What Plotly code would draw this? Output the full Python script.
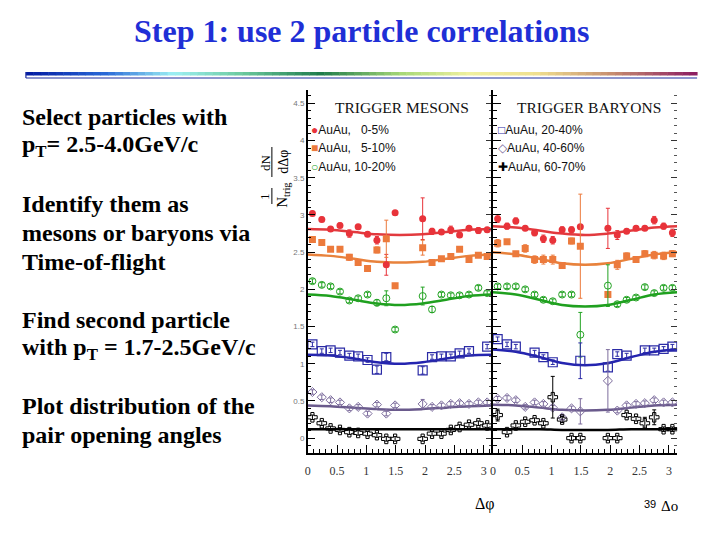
import plotly.graph_objects as go

# ---------------- data ----------------
x_bins = [0.08, 0.24, 0.39, 0.55, 0.71, 0.86, 1.02, 1.18, 1.34, 1.49,
          1.96, 2.12, 2.28, 2.44, 2.59, 2.75, 2.91, 3.06]
x_curve = [0.0, 0.39, 0.79, 1.18, 1.57, 1.96, 2.36, 2.75, 3.14]

series_names = ["AuAu,   0-5%", "AuAu,   5-10%", "AuAu, 10-20%",
                "AuAu, 20-40%", "AuAu, 40-60%", "AuAu, 60-70%"]

# trigger mesons (left panel)
mes_red = [3.02, 2.94, 2.81, 2.86, 2.75, 2.84, 2.74, 2.66, 2.33, 3.03, 2.95, 2.78, 2.77, 2.80, 2.73, 2.82, 2.79, 2.80]
mes_orange = [2.67, 2.63, 2.54, 2.54, 2.43, 2.36, 2.28, 2.53, 2.68, 2.05, 2.56, 2.36, 2.41, 2.44, 2.54, 2.40, 2.46, 2.44]
mes_green = [2.11, 2.06, 2.04, 1.97, 1.85, 1.88, 1.93, 1.82, 1.88, 1.46, 1.91, 1.73, 1.93, 1.92, 1.92, 1.93, 2.02, 1.95]
mes_blue = [1.26, 1.17, 1.18, 1.15, 1.11, 1.10, 1.05, 0.92, 1.09, None, 0.91, 1.09, 1.10, 1.10, 1.14, 1.17, None, 1.23]
mes_purple = [0.62, 0.55, 0.51, 0.48, 0.40, 0.42, 0.33, 0.45, 0.33, 0.44, 0.46, 0.42, 0.44, 0.46, 0.47, 0.46, 0.48, 0.48]
mes_black = [0.28, 0.20, 0.13, 0.11, 0.08, 0.07, 0.06, 0.04, -0.01, -0.01, -0.01, 0.06, 0.06, 0.11, 0.15, 0.18, 0.20, 0.17]

mes_red_err = [0.03, 0.03, 0.03, 0.03, 0.05, 0.03, 0.03, 0.05, 0.14, 0.03, 0.28, 0.04, 0.03, 0.05, 0.03, 0.03, 0.04, 0.03]
mes_orange_err = [0.03, 0.03, 0.03, 0.03, 0.04, 0.03, 0.04, 0.04, 0.25, 0.03, 0.10, 0.03, 0.03, 0.03, 0.03, 0.03, 0.03, 0.03]
mes_green_err = [0.03, 0.03, 0.03, 0.03, 0.03, 0.03, 0.03, 0.04, 0.10, 0.03, 0.12, 0.04, 0.03, 0.03, 0.03, 0.03, 0.03, 0.03]
mes_blue_err = [0.03, 0.03, 0.03, 0.03, 0.03, 0.03, 0.03, 0.05, 0.05, 0.03, 0.05, 0.03, 0.03, 0.03, 0.03, 0.03, 0.03, 0.03]
mes_purple_err = [0.03, 0.03, 0.03, 0.03, 0.03, 0.03, 0.03, 0.03, 0.03, 0.03, 0.06, 0.03, 0.03, 0.03, 0.03, 0.03, 0.03, 0.03]
mes_black_err = [0.03, 0.03, 0.03, 0.03, 0.03, 0.03, 0.03, 0.03, 0.03, 0.03, 0.03, 0.03, 0.03, 0.03, 0.03, 0.03, 0.03, 0.03]

mes_curve_red = [2.81, 2.80, 2.77, 2.74, 2.73, 2.74, 2.77, 2.80, 2.81]
mes_curve_orange = [2.47, 2.45, 2.41, 2.37, 2.36, 2.37, 2.41, 2.45, 2.47]
mes_curve_green = [1.93, 1.91, 1.86, 1.81, 1.79, 1.81, 1.86, 1.91, 1.93]
mes_curve_blue = [1.12, 1.11, 1.07, 1.02, 1.00, 1.02, 1.07, 1.11, 1.12]
mes_curve_purple = [0.44, 0.43, 0.41, 0.39, 0.38, 0.39, 0.41, 0.43, 0.44]
mes_curve_black = [0.12, 0.12, 0.12, 0.12, 0.12, 0.12, 0.12, 0.12, 0.12]

# trigger baryons (right panel)
bar_red = [2.95, 2.85, 2.92, 2.82, 2.76, 2.68, 2.66, 2.80, 2.80, 2.84, 2.82, 2.73, 2.78, 2.82, 2.82, 2.93, 2.85, 2.76]
bar_orange = [2.62, 2.64, 2.48, 2.55, 2.40, 2.40, 2.40, 2.32, 2.65, 2.58, 1.93, 2.33, 2.45, 2.40, 2.48, 2.46, 2.45, 2.48]
bar_green = [2.04, 2.04, 2.04, 2.00, 1.93, 1.86, 1.84, 1.93, 1.93, 1.39, 2.05, 1.80, 1.86, 1.89, 2.03, 1.95, 2.02, 2.02]
bar_blue = [1.33, 1.26, 1.23, None, 1.15, 1.09, 1.02, None, None, 1.04, 0.95, 1.13, 1.11, None, 1.18, 1.18, 1.20, 1.23]
bar_purple = [0.53, 0.54, 0.51, 0.42, 0.48, 0.46, 0.41, 0.28, 0.40, 0.36, 0.77, 0.37, 0.44, 0.46, 0.47, 0.51, 0.48, 0.48]
bar_black = [0.31, 0.08, 0.17, 0.22, 0.24, 0.20, 0.55, 0.25, 0.00, 0.00, 0.00, 0.00, 0.31, 0.26, 0.20, 0.28, 0.12, 0.12]

bar_red_err = [0.05, 0.04, 0.04, 0.03, 0.04, 0.05, 0.05, 0.04, 0.04, 0.03, 0.27, 0.06, 0.03, 0.03, 0.03, 0.05, 0.04, 0.05]
bar_orange_err = [0.05, 0.03, 0.03, 0.05, 0.05, 0.06, 0.06, 0.04, 0.04, 0.70, 0.03, 0.06, 0.04, 0.03, 0.04, 0.05, 0.05, 0.04]
bar_green_err = [0.03, 0.03, 0.03, 0.03, 0.03, 0.03, 0.03, 0.03, 0.03, 0.30, 0.28, 0.03, 0.03, 0.03, 0.03, 0.03, 0.03, 0.03]
bar_blue_err = [0.03, 0.03, 0.03, 0.03, 0.03, 0.03, 0.03, 0.03, 0.03, 0.24, 0.05, 0.03, 0.03, 0.03, 0.03, 0.03, 0.03, 0.03]
bar_purple_err = [0.03, 0.03, 0.03, 0.03, 0.03, 0.03, 0.03, 0.03, 0.03, 0.17, 0.42, 0.03, 0.03, 0.03, 0.03, 0.03, 0.03, 0.03]
bar_black_err = [0.08, 0.03, 0.03, 0.03, 0.03, 0.03, 0.28, 0.04, 0.03, 0.03, 0.03, 0.03, 0.03, 0.03, 0.08, 0.10, 0.03, 0.03]

bar_curve_red = [2.85, 2.83, 2.79, 2.75, 2.73, 2.75, 2.79, 2.83, 2.85]
bar_curve_orange = [2.50, 2.47, 2.41, 2.35, 2.33, 2.35, 2.41, 2.47, 2.50]
bar_curve_green = [1.96, 1.93, 1.86, 1.79, 1.77, 1.79, 1.86, 1.93, 1.96]
bar_curve_blue = [1.19, 1.16, 1.09, 1.01, 0.98, 1.01, 1.09, 1.16, 1.19]
bar_curve_purple = [0.45, 0.44, 0.41, 0.38, 0.37, 0.38, 0.41, 0.44, 0.45]
bar_curve_black = [0.12, 0.12, 0.12, 0.11, 0.11, 0.11, 0.12, 0.12, 0.12]

x_tickvals = [0, 0.5, 1, 1.5, 2, 2.5, 3]
x_ticktext = ["0", "0.5", "1", "1.5", "2", "2.5", "3"]
y_tickvals = [0, 0.5, 1, 1.5, 2, 2.5, 3, 3.5, 4, 4.5]
y_ticktext = ["0", "0.5", "1", "1.5", "2", "2.5", "3", "3.5", "4", "4.5"]

bullet_lines = [
    ("<b>Select particles with</b>", 117),
    ("<b>p<sub>T</sub>= 2.5-4.0GeV/c</b>", 146),
    ("<b>Identify them as</b>", 204),
    ("<b>mesons or baryons via</b>", 233),
    ("<b>Time-of-flight</b>", 262),
    ("<b>Find second particle</b>", 320),
    ("<b>with p<sub>T</sub> = 1.7-2.5GeV/c</b>", 349),
    ("<b>Plot distribution of the</b>", 406),
    ("<b>pair opening angles</b>", 435),
]

# ---------------- styles ----------------
W, H = 720, 540
def PX(px): return px / W
def PY(py): return 1 - py / H

marker_styles = [
    dict(symbol="circle", size=7, color="#e8333a"),
    dict(symbol="square", size=7, color="#ec7a3c"),
    dict(symbol="circle-open", size=7, color="#23a323", line=dict(width=1)),
    dict(symbol="square-open", size=9, color="#2b2ba6", line=dict(width=1.2)),
    dict(symbol="diamond-open", size=7, color="#7d6d9d", line=dict(width=1)),
    dict(symbol="cross-open", size=8, color="#000000", line=dict(width=1)),
]
curve_colors = ["#e23a3e", "#e8823c", "#1fa01f", "#2424b0", "#6a5a8c", "#000000"]

panels = [
    ("x", "y", [mes_red, mes_orange, mes_green, mes_blue, mes_purple, mes_black],
     [mes_red_err, mes_orange_err, mes_green_err, mes_blue_err, mes_purple_err, mes_black_err],
     [mes_curve_red, mes_curve_orange, mes_curve_green, mes_curve_blue, mes_curve_purple, mes_curve_black]),
    ("x2", "y2", [bar_red, bar_orange, bar_green, bar_blue, bar_purple, bar_black],
     [bar_red_err, bar_orange_err, bar_green_err, bar_blue_err, bar_purple_err, bar_black_err],
     [bar_curve_red, bar_curve_orange, bar_curve_green, bar_curve_blue, bar_curve_purple, bar_curve_black]),
]

fig = go.Figure()
for xa, ya, vals, errs, curves in panels:
    for i in range(6):
        fig.add_trace(go.Scatter(
            x=x_curve, y=curves[i], xaxis=xa, yaxis=ya, mode="lines",
            line=dict(color=curve_colors[i], width=2.5, shape="spline"),
            showlegend=False, hoverinfo="skip"))
    for i in range(6):
        fig.add_trace(go.Scatter(
            x=x_bins, y=vals[i], xaxis=xa, yaxis=ya, mode="markers",
            marker=marker_styles[i], name=series_names[i],
            error_y=dict(type="data", array=errs[i], color=marker_styles[i]["color"],
                         thickness=1, width=2),
            showlegend=False))

# empty traces so mirrored tick axes are drawn
fig.add_trace(go.Scatter(x=[], y=[], xaxis="x", yaxis="y3", showlegend=False))
fig.add_trace(go.Scatter(x=[], y=[], xaxis="x2", yaxis="y4", showlegend=False))

yrange = [-0.2, 4.68]
ydom = [PY(453), PY(90)]

xcommon = dict(range=[0, 3.1416], tickvals=x_tickvals, ticktext=x_ticktext,
               ticks="inside", ticklen=8, tickcolor="black", tickwidth=1,
               minor=dict(ticks="inside", ticklen=4, dtick=0.1, tickcolor="black"),
               showline=True, linecolor="black", linewidth=1.5,
               showgrid=False, zeroline=False, ticklabelstandoff=6,
               tickfont=dict(family="Liberation Serif", size=12, color="#333"))
ycommon = dict(range=yrange, domain=ydom, tickvals=y_tickvals,
               ticks="inside", ticklen=8, tickcolor="black", tickwidth=1,
               minor=dict(ticks="inside", ticklen=4, dtick=0.1, tickcolor="black"),
               showline=True, linecolor="black", linewidth=1.5,
               showgrid=False, zeroline=False)
ymirror = dict(range=yrange, side="right", ticks="inside", ticklen=6, tickcolor="#333",
               tickvals=y_tickvals, showticklabels=False, showline=False,
               showgrid=False, zeroline=False,
               minor=dict(ticks="inside", ticklen=3, dtick=0.1, tickcolor="#555"))

fig.update_layout(
    width=W, height=H, margin=dict(l=0, r=0, t=0, b=0),
    paper_bgcolor="white", plot_bgcolor="rgba(0,0,0,0)",
    showlegend=False,
    xaxis=dict(domain=[PX(306), PX(491)], anchor="y", **xcommon),
    xaxis2=dict(domain=[PX(492), PX(677)], anchor="y2", **xcommon),
    yaxis=dict(anchor="x", ticktext=y_ticktext, showticklabels=True,
               tickfont=dict(family="Liberation Sans", size=8, color="#777"), **ycommon),
    yaxis2=dict(anchor="x2", showticklabels=False, **ycommon),
    yaxis3=dict(overlaying="y", anchor="x", **ymirror),
    yaxis4=dict(overlaying="y2", anchor="x2", **ymirror),
)

ann = []
def add_text(txt, px, py, size, family="Liberation Serif", color="black",
             xanchor="center", angle=0):
    ann.append(dict(text=txt, x=PX(px), y=PY(py), xref="paper", yref="paper",
                    showarrow=False, xanchor=xanchor, yanchor="middle", textangle=angle,
                    font=dict(family=family, size=size, color=color)))

# title
add_text("<b>Step 1: use 2 particle correlations</b>", 360, 31, 32, color="#1f2fd6")
for txt, py in bullet_lines:
    add_text(txt, 17, py, 24, xanchor="left")
# panel titles
add_text("TRIGGER MESONS", 401, 107, 15.5, color="#111")
add_text("TRIGGER BARYONS", 588, 107, 15.5, color="#111")
# legends
legend_sym = ["●", "■", "○", "□", "◇", "✚"]
legend_col = ["#e8333a", "#ec7a3c", "#23a323", "#2b2ba6", "#7d6d9d", "#000000"]
rows = [130, 148, 167]
for i in range(6):
    lx = 307 if i < 3 else 495
    add_text(f"<span style='color:{legend_col[i]}'>{legend_sym[i]}</span>{series_names[i].replace(' ', '&nbsp;')}",
             lx, rows[i % 3], 12, family="Liberation Sans", color="#111", xanchor="left")
# y axis title as fraction
for txt, px, py, sz in [("1", 263, 196, 13), ("dN", 263, 162, 13),
                        ("N<sub>trig</sub>", 281, 195, 15), ("dΔφ", 281, 162, 14)]:
    add_text(txt, px, py, sz, angle=-90)
# x title and page number
add_text("Δφ", 484, 504, 16)
add_text("39", 650, 504, 11, family="Liberation Sans")
add_text("Δο", 669, 506, 15)
fig.update_layout(annotations=ann)

shapes = []
# fraction bars
for y0, y1 in [(188, 204), (147, 177)]:
    shapes.append(dict(type="line", xref="paper", yref="paper", x0=PX(270), x1=PX(270),
                       y0=PY(y0), y1=PY(y1), line=dict(color="black", width=1)))
# header gradient bar
stops = [(0.0, (0, 24, 160)), (0.12, (42, 106, 216)), (0.22, (158, 240, 244)),
         (0.32, (108, 202, 160)), (0.44, (30, 122, 74)), (0.56, (168, 216, 120)),
         (0.66, (240, 240, 160)), (0.76, (240, 224, 144)), (0.87, (200, 144, 112)),
         (1.0, (138, 26, 96))]
def grad(t):
    for (t0, c0), (t1, c1) in zip(stops[:-1], stops[1:]):
        if t0 <= t <= t1:
            f = (t - t0) / (t1 - t0)
            return "rgb(%d,%d,%d)" % tuple(round(a + (b - a) * f) for a, b in zip(c0, c1))
    return "rgb(138,26,96)"
x_start, x_end, nseg = 23, 697, 90
for k in range(nseg):
    a = x_start + (x_end - x_start) * k / nseg
    b = x_start + (x_end - x_start) * (k + 1) / nseg
    shapes.append(dict(type="rect", xref="paper", yref="paper", x0=PX(a), x1=PX(b + 0.5),
                       y0=PY(75.5), y1=PY(72), line=dict(width=0), fillcolor=grad((k + 0.5) / nseg)))
shapes.append(dict(type="line", xref="paper", yref="paper", x0=PX(23), x1=PX(697),
                   y0=PY(78), y1=PY(78), line=dict(color="#1f2fa0", width=1.2)))
shapes.append(dict(type="line", xref="paper", yref="paper", x0=PX(23), x1=PX(23),
                   y0=PY(72), y1=PY(78), line=dict(color="#1f2fa0", width=1.2)))
fig.update_layout(shapes=shapes)

fig.write_html("out.html", config={"displayModeBar": False},
               post_script="document.body.style.margin='0';document.body.style.padding='0';")
